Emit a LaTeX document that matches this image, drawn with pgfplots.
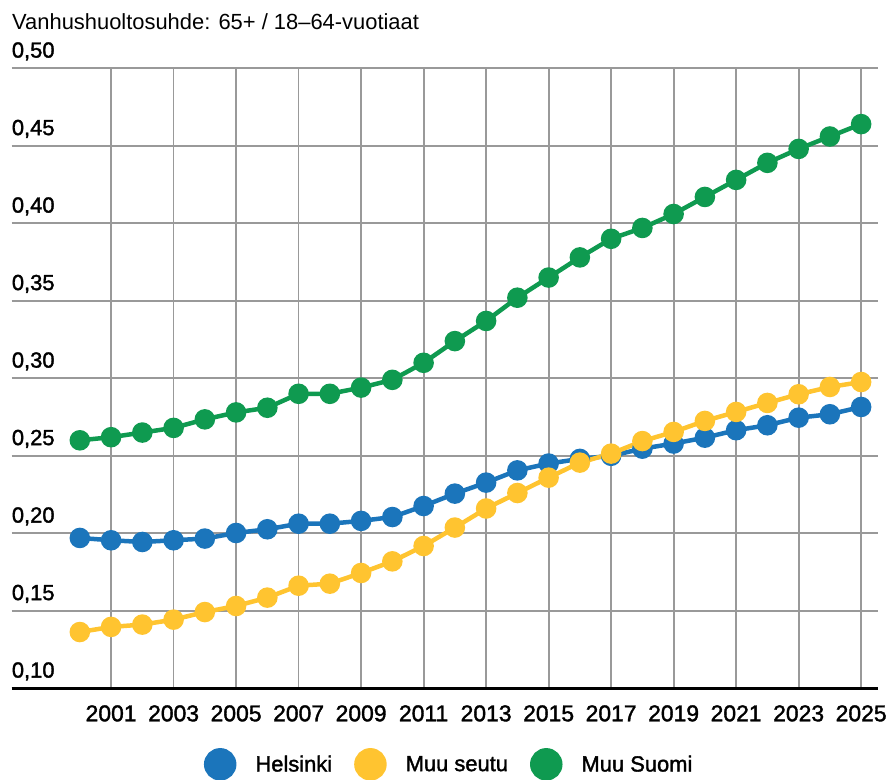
\documentclass[border=0pt]{standalone}
\usepackage{fontspec}
\setmainfont{Liberation Sans}
\newfontfamily\medfont{Liberation Sans}[FakeBold=1.6]
\usepackage{pgfplots}
\pgfplotsset{compat=1.18}
\usepackage{pgfplotstable}

\definecolor{hblue}{HTML}{1B75BB}
\definecolor{syellow}{HTML}{FFC430}
\definecolor{sgreen}{HTML}{0F9A50}

% year, Helsinki, Muu seutu, Muu Suomi
\pgfplotstableread{
year hki seutu suomi
2000 0.1970 0.1363 0.2600
2001 0.1955 0.1396 0.2620
2002 0.1944 0.1411 0.2650
2003 0.1955 0.1443 0.2680
2004 0.1966 0.1492 0.2735
2005 0.2002 0.1531 0.2780
2006 0.2026 0.1585 0.2810
2007 0.2062 0.1662 0.2900
2008 0.2062 0.1675 0.2900
2009 0.2080 0.1744 0.2940
2010 0.2105 0.1819 0.2990
2011 0.2176 0.1918 0.3100
2012 0.2256 0.2037 0.3240
2013 0.2327 0.2160 0.3370
2014 0.2406 0.2260 0.3520
2015 0.2450 0.2359 0.3650
2016 0.2480 0.2456 0.3780
2017 0.2500 0.2514 0.3900
2018 0.2546 0.2595 0.3970
2019 0.2579 0.2654 0.4060
2020 0.2617 0.2725 0.4170
2021 0.2665 0.2783 0.4280
2022 0.2697 0.2841 0.4390
2023 0.2746 0.2897 0.4480
2024 0.2768 0.2944 0.4560
2025 0.2815 0.2976 0.4640
}\datatable

\begin{document}
\begin{tikzpicture}
\useasboundingbox (0,0) rectangle (889bp,780bp);
\begin{axis}[
  at={(11.7bp,91.7bp)}, anchor=south west,
  scale only axis, width=866bp, height=620bp,
  xmin=1997.82, xmax=2025.53, ymin=0.1, ymax=0.5,
  xtick={2001,2003,...,2025},
  ytick={0.10,0.15,0.20,0.25,0.30,0.35,0.40,0.45,0.50},
  major tick length=0pt,
  grid=major,
  major grid style={color=black!40, line width=1.8bp},
  axis lines*=left,
  y axis line style={draw=none},
  x axis line style={black, line width=2.5bp},
  /pgf/number format/assume math mode=true,
  x tick label style={/pgf/number format/1000 sep={}, font=\medfont\fontsize{23}{25}\selectfont, anchor=base, yshift=-33bp, inner sep=0pt},
  y tick label style={/pgf/number format/.cd, fixed, fixed zerofill, precision=2, use comma, /tikz/.cd,
     font=\medfont\fontsize{22}{24}\selectfont, anchor=base west, yshift=10.7bp, inner sep=0pt},
  every axis plot/.append style={line width=4.5bp, mark=*, mark size=8bp,
     mark options={draw=white, line width=1bp}},
  legend columns=-1,
  legend style={draw=none, fill=none, at={(axis description cs:0.504,-0.1226)}, anchor=center,
     font=\medfont\fontsize{22}{24}\selectfont,
     nodes={inner sep=0pt},
     /tikz/every odd column/.append style={column sep=19bp},
     /tikz/every even column/.append style={column sep=22bp}},
  legend image code/.code={\fill (0bp,0bp) circle (14bp);},
]
\addplot[color=hblue, mark options={fill=hblue}] table[x=year, y=hki] {\datatable};
\addlegendentry{Helsinki}
\addplot[color=syellow, mark options={fill=syellow}] table[x=year, y=seutu] {\datatable};
\addlegendentry{Muu seutu}
\addplot[color=sgreen, mark options={fill=sgreen}] table[x=year, y=suomi] {\datatable};
\addlegendentry{Muu Suomi}
\end{axis}
\node[anchor=base west, inner sep=0pt, font=\fontsize{22}{24}\selectfont] at (12bp,750bp)
  {Vanhushuoltosuhde: 65+ / 18–64-vuotiaat};
\end{tikzpicture}
\end{document}
